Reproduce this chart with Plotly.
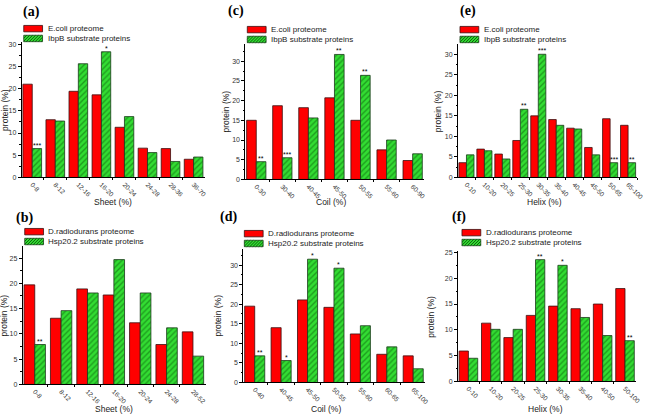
import plotly.graph_objects as go

W, H = 650, 418

# ---------------- data ----------------
a_cats = ["0-8", "8-12", "12-16", "16-20", "20-24", "24-28", "28-36", "36-70"]
a_red = [21.0, 13.0, 19.4, 18.6, 11.3, 6.6, 6.5, 4.1]
a_green = [6.5, 12.7, 25.6, 28.3, 13.7, 5.6, 3.6, 4.6]
a_sig = ["***", "", "", "*", "", "", "", ""]

c_cats = ["0-30", "30-40", "40-45", "45-50", "50-55", "55-60", "60-90"]
c_red = [15.0, 18.7, 18.2, 20.7, 15.0, 7.5, 4.8]
c_green = [4.5, 5.5, 15.6, 31.7, 26.4, 10.0, 6.5]
c_sig = ["**", "***", "", "**", "**", "", ""]

e_cats = ["0-10", "10-20", "20-25", "25-30", "30-35", "35-40", "40-45", "45-50", "50-65", "65-100"]
e_red = [3.6, 6.9, 5.7, 9.0, 15.0, 14.1, 12.0, 7.3, 14.3, 12.7]
e_green = [5.5, 6.5, 4.5, 16.6, 30.0, 12.7, 11.8, 5.5, 3.6, 3.6]
e_sig = ["", "", "", "**", "***", "", "", "", "***", "**"]

b_cats = ["0-8", "8-12", "12-16", "16-20", "20-24", "24-28", "28-52"]
b_red = [19.7, 13.1, 18.9, 17.7, 12.2, 7.9, 10.4]
b_green = [7.9, 14.6, 18.1, 24.7, 18.1, 11.2, 5.6]
b_sig = ["**", "", "", "", "", "", ""]

d_cats = ["0-40", "40-45", "45-50", "50-55", "55-60", "60-65", "65-100"]
d_red = [19.5, 14.0, 21.1, 19.2, 12.4, 7.2, 6.8]
d_green = [6.8, 5.6, 31.5, 29.2, 14.5, 9.1, 3.5]
d_sig = ["**", "*", "*", "*", "", "", ""]

f_cats = ["0-10", "10-20", "20-25", "25-30", "30-35", "35-40", "40-50", "50-100"]
f_red = [5.9, 11.3, 8.5, 12.8, 14.6, 14.1, 15.0, 18.0]
f_green = [4.5, 10.1, 10.1, 23.6, 22.5, 12.4, 8.9, 7.9]
f_sig = ["", "", "", "**", "*", "", "", "**"]

ecoli_names = ["E.coli proteome", "IbpB substrate proteins"]
dr_names = ["D.radiodurans proteome", "Hsp20.2 substrate proteins"]
y_title = "protein (%)"

# ---------------- layout (pixel positions) ----------------
panels = [
    dict(lab="(a)", cats=a_cats, red=a_red, green=a_green, sig=a_sig, names=ecoli_names,
         xt="Sheet (%)", L=22, R=207, y0=177, yt=40, top=30.4, g=0.19, dt=5,
         labx=21, laby=9, legx=24, legy=26, xtx=114, xty=202, ytx=5),
    dict(lab="(c)", cats=c_cats, red=c_red, green=c_green, sig=c_sig, names=ecoli_names,
         xt="Coil (%)", L=248, R=429, y0=179, yt=42, top=34.25, g=0.26, dt=5,
         labx=228, laby=8, legx=250, legy=27, xtx=335, xty=202, ytx=228),
    dict(lab="(e)", cats=e_cats, red=e_red, green=e_green, sig=e_sig, names=ecoli_names,
         xt="Helix (%)", L=463, R=644, y0=177, yt=42, top=32.4, g=0.16, dt=5,
         labx=463, laby=8, legx=465, legy=27, xtx=550, xty=202, ytx=443),
    dict(lab="(b)", cats=b_cats, red=b_red, green=b_green, sig=b_sig, names=dr_names,
         xt="Sheet (%)", L=23, R=208, y0=387, yt=247, top=27.3, g=0.19, dt=5,
         labx=14, laby=218, legx=25, legy=232, xtx=115, xty=412, ytx=5),
    dict(lab="(d)", cats=d_cats, red=d_red, green=d_green, sig=d_sig, names=dr_names,
         xt="Coil (%)", L=246, R=430, y0=385, yt=250, top=34.0, g=0.24, dt=5,
         labx=220, laby=217, legx=247, legy=234, xtx=330, xty=412, ytx=220),
    dict(lab="(f)", cats=f_cats, red=f_red, green=f_green, sig=f_sig, names=dr_names,
         xt="Helix (%)", L=463, R=643, y0=384, yt=252, top=25.2, g=0.17, dt=5,
         labx=455, laby=217, legx=467, legy=233, xtx=551, xty=412, ytx=436),
]

RED = "#ff0000"
GREEN = "#33dd33"
HATCH = "#0b5e0b"
EDGE = "#3a1010"
FONT = "Liberation Sans, Arial, sans-serif"

fig = go.Figure()
annotations = []
shapes = []


def px(x):
    return x / W


def py(y):
    return 1 - y / H


for i, p in enumerate(panels):
    k = "" if i == 0 else str(i + 1)
    xa, ya = "x" + k, "y" + k
    n = len(p["cats"])
    g = p["g"]
    half = (1 - g) / 2
    fig.add_trace(go.Bar(
        x=p["cats"], y=p["red"], name=p["names"][0], xaxis=xa, yaxis=ya,
        width=half, offset=-half, showlegend=False,
        marker=dict(color=RED, line=dict(color=EDGE, width=0.8)),
    ))
    fig.add_trace(go.Bar(
        x=p["cats"], y=p["green"], name=p["names"][1], xaxis=xa, yaxis=ya,
        width=half, offset=0, showlegend=False,
        marker=dict(color=GREEN, line=dict(color="#1a3a1a", width=0.8),
                    pattern=dict(shape="/", fgcolor=HATCH, size=4, solidity=0.35,
                                 fillmode="overlay")),
    ))
    fig.layout["xaxis" + k] = dict(
        domain=[px(p["L"]), px(p["R"])], anchor=ya, type="category",
        categoryorder="array", categoryarray=p["cats"],
        range=[-half - 0.05, n - 1 + half + 0.08],
        showline=True, linecolor="black", linewidth=1,
        ticks="outside", ticklen=2, tickson="boundaries", tickcolor="black",
        tickangle=45, tickfont=dict(size=6.5, color="#333", family=FONT),
        showgrid=False, zeroline=False,
    )
    fig.layout["yaxis" + k] = dict(
        domain=[py(p["y0"]), py(p["yt"])], anchor=xa,
        range=[0, p["top"]], dtick=p["dt"], tick0=0,
        showline=True, linecolor="black", linewidth=1,
        ticks="outside", ticklen=3, tickcolor="black",
        minor=dict(dtick=p["dt"] / 2, ticks="outside", ticklen=1.5, tickcolor="black"),
        tickfont=dict(size=7, color="#333", family=FONT),
        showgrid=False, zeroline=False,
    )
    # axis titles
    annotations.append(dict(
        x=px(p["xtx"]), y=py(p["xty"]), xref="paper", yref="paper", text=p["xt"],
        showarrow=False, xanchor="center", yanchor="middle",
        font=dict(size=8.5, color="#222", family=FONT),
    ))
    annotations.append(dict(
        x=px(p["ytx"]), y=py((p["y0"] + p["yt"]) / 2), xref="paper", yref="paper",
        text=y_title, textangle=-90,
        showarrow=False, xanchor="center", yanchor="middle",
        font=dict(size=8.5, color="#222", family=FONT),
    ))
    # significance stars above substrate bars
    for j, s in enumerate(p["sig"]):
        if s:
            annotations.append(dict(
                x=j + half / 2, y=p["green"][j], xref=xa, yref=ya, text=s,
                showarrow=False, yanchor="bottom", yshift=-2,
                font=dict(size=7, color="black", family=FONT),
            ))
    # panel label
    annotations.append(dict(
        x=px(p["labx"]), y=py(p["laby"]), xref="paper", yref="paper", text="<b>%s</b>" % p["lab"],
        showarrow=False, xanchor="left", yanchor="middle",
        font=dict(size=14, color="black", family="Liberation Serif, Times New Roman, serif"),
    ))
    # legend (manual, to match the compact swatches)
    sw, sh, gap = 19, 6.5, 10
    x0, x1 = p["legx"], p["legx"] + sw
    for r in range(2):
        cy = p["legy"] + r * gap
        yt_, yb_ = cy - sh / 2, cy + sh / 2
        shapes.append(dict(
            type="rect", xref="paper", yref="paper",
            x0=px(x0), x1=px(x1), y0=py(yb_), y1=py(yt_),
            fillcolor=RED if r == 0 else GREEN,
            line=dict(color=EDGE if r == 0 else "#1a3a1a", width=0.8),
        ))
        if r == 1:
            path = ""
            step = 3.0
            t = -sh
            while t < sw:
                umin = max(0.0, x0 - (x0 + t))
                umax = min(sh, x1 - (x0 + t))
                if umin < umax:
                    xa0, ya0 = x0 + t + umin, yb_ - umin
                    xa1, ya1 = x0 + t + umax, yb_ - umax
                    path += "M%.5f,%.5f L%.5f,%.5f " % (px(xa0), py(ya0), px(xa1), py(ya1))
                t += step
            shapes.append(dict(type="path", xref="paper", yref="paper", path=path,
                               line=dict(color=HATCH, width=1)))
        annotations.append(dict(
            x=px(x1 + 3), y=py(cy), xref="paper", yref="paper", text=p["names"][r],
            showarrow=False, xanchor="left", yanchor="middle",
            font=dict(size=8, color="#222", family=FONT),
        ))

fig.update_layout(
    width=W, height=H, autosize=False,
    margin=dict(l=0, r=0, t=0, b=0),
    paper_bgcolor="white", plot_bgcolor="white",
    barmode="overlay", showlegend=False,
    annotations=annotations, shapes=shapes,
    font=dict(family=FONT),
)

fig.write_html(
    "out.html",
    config={"displayModeBar": False},
    post_script="document.body.style.margin='0';document.body.style.padding='0';"
                "document.body.style.overflow='hidden';",
)
